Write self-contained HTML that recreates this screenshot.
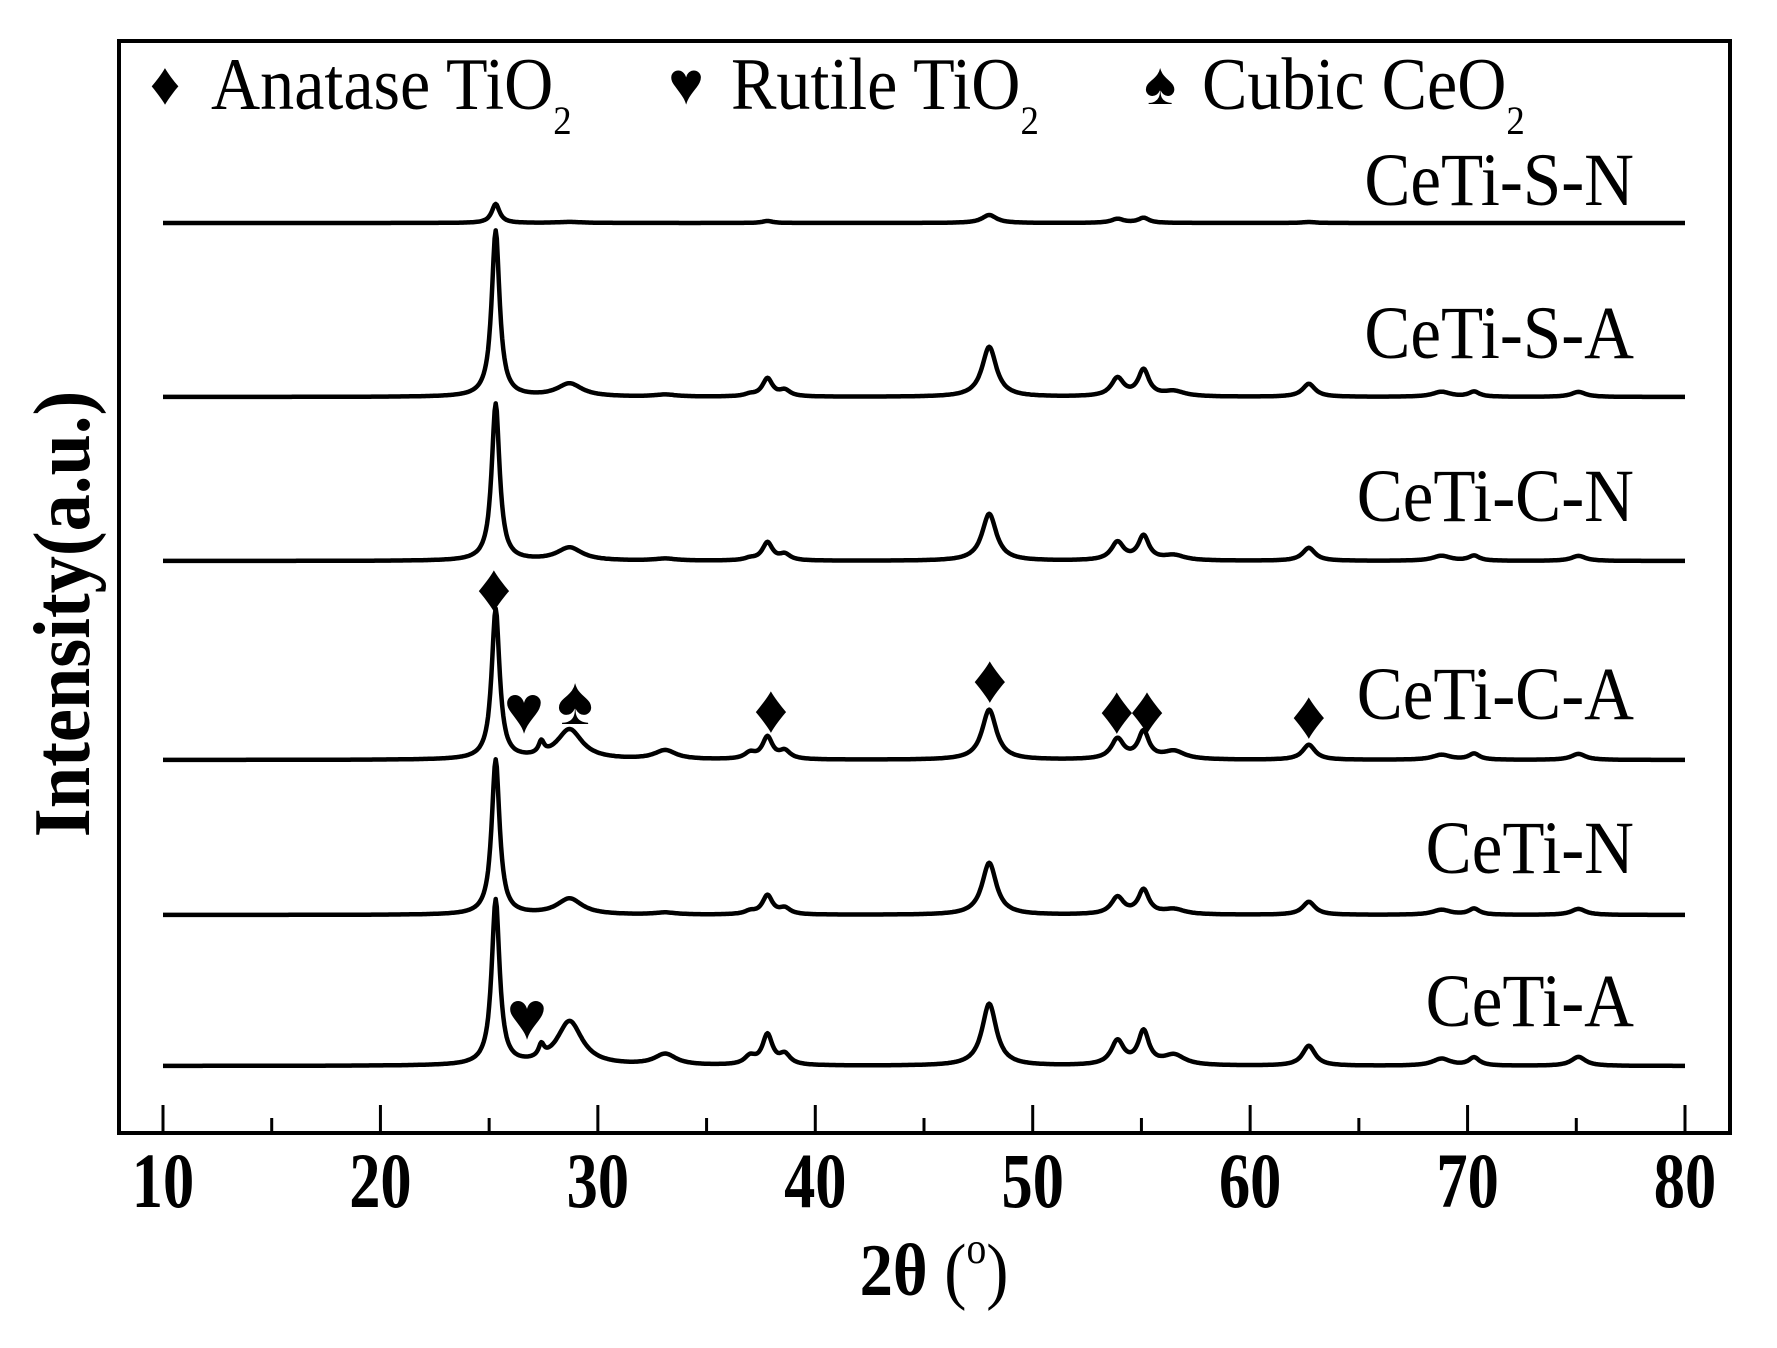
<!DOCTYPE html>
<html><head><meta charset="utf-8"><style>
html,body{margin:0;padding:0;background:#fff}
svg{display:block}
text{font-family:"Liberation Serif",serif;fill:#000}
</style></head><body>
<svg id="chart" width="1777" height="1348" viewBox="0 0 1777 1348" xmlns="http://www.w3.org/2000/svg">
<rect x="119" y="41" width="1611" height="1092" fill="none" stroke="#000" stroke-width="4"/>
<g id="ticks"></g>
<g id="series"></g>
<g id="markers"></g>
<text transform="translate(89,614) rotate(-90) scale(0.93,1)" text-anchor="middle" font-size="80" font-weight="bold">Intensity(a.u.)</text>
<text transform="translate(934,1295) scale(0.9,1)" text-anchor="middle" font-size="74"><tspan font-weight="bold">2θ</tspan> (<tspan font-size="44" dy="-32">o</tspan><tspan dy="32">)</tspan></text>
<g>
<text x="165" y="104" text-anchor="middle" font-size="60">♦</text>
<text transform="translate(211,109) scale(0.92,1)" font-size="74">Anatase TiO<tspan font-size="40" dy="25">2</tspan></text>
<text x="686" y="104" text-anchor="middle" font-size="60">♥</text>
<text transform="translate(731,109) scale(0.92,1)" font-size="74">Rutile TiO<tspan font-size="40" dy="25">2</tspan></text>
<text x="1160" y="104" text-anchor="middle" font-size="60">♠</text>
<text transform="translate(1202,109) scale(0.92,1)" font-size="74">Cubic CeO<tspan font-size="40" dy="25">2</tspan></text>
</g>
</svg>
<script>
const seriesNames = ["CeTi-S-N","CeTi-S-A","CeTi-C-N","CeTi-C-A","CeTi-N","CeTi-A"];
const seriesBaselines = [223,397,561,760,915,1066];
const labelBaselines = [205,358,521,719,873,1026];
// peak positions (2θ), widths (HWHM deg)
const peakPos = [25.3,27.4,28.7,33.1,37.0,37.8,38.6,48.0,53.9,55.1,56.5,62.7,68.8,70.3,75.1];
const peakWid = [0.22,0.15,0.7,0.6,0.3,0.28,0.3,0.4,0.35,0.3,0.6,0.35,0.5,0.3,0.4];
// intensities per series (a.u., roughly px)
const intSN = [19,0,1,0,0,2,0,8,4,5,0,1,0,0,0];
const intSA = [166,0,13,2,2,18,6,50,18,26,5,13,5,5,5];
const intCN = [157,0,13,2,2,18,6,47,18,24,5,13,5,5,5];
const intCA = [150,12,30,9,6,22,8,50,20,27,8,15,5,6,6];
const intN  = [155,0,16,2,3,19,6,52,17,24,5,13,5,6,6];
const intA  = [165,12,44,11,8,30,10,62,24,33,10,20,7,8,9];
const seriesInts = [intSN,intSA,intCN,intCA,intN,intA];
const xTicks = [10,20,30,40,50,60,70,80];
const minorTicks = [15,25,35,45,55,65,75];
// marker annotations: 2θ, height of glyph centre above baseline, glyph, series index
const markerX = [25.22,26.6,28.95,37.96,48.03,53.87,55.26,62.7,26.74];
const markerH = [171,49,58,50,80,49,49,44,49];
const markerG = ["♦","♥","♠","♦","♦","♦","♦","♦","♥"];
const markerS = [3,3,3,3,3,3,3,3,5];

const NS="http://www.w3.org/2000/svg";
const xS = v => 163 + (v-10)*(1685-163)/70;
function mk(tag, attrs, parent){const e=document.createElementNS(NS,tag);for(const k in attrs)e.setAttribute(k,attrs[k]);parent.appendChild(e);return e;}
const tg=document.getElementById('ticks');
xTicks.forEach(t=>{
  const l=mk('line',{x1:xS(t),x2:xS(t),y1:1133,y2:1105,stroke:'#000','stroke-width':3},tg);
  
  
  const tx=mk('text',{transform:'translate('+xS(t)+',1207) scale(0.8,1)','text-anchor':'middle','font-size':78,'font-weight':'bold'},tg);
  tx.textContent=t;
  
  
});
minorTicks.forEach(t=>{
  const l=mk('line',{x1:xS(t),x2:xS(t),y1:1133,y2:1118,stroke:'#000','stroke-width':3},tg);
  
  
});
const sg=document.getElementById('series');
seriesNames.forEach((nm,i)=>{
  const ints=seriesInts[i], b=seriesBaselines[i];
  let d='';
  for(let x=10;x<=80.0001;x+=0.05){
    let y=0;
    for(let k=0;k<peakPos.length;k++){const w=peakWid[k];const dx=x-peakPos[k];y+=ints[k]*w*w/(dx*dx+w*w);}
    d+=(d?'L':'M')+xS(x).toFixed(1)+','+(b-y).toFixed(1);
  }
  const p=mk('path',{d:d,fill:'none',stroke:'#000','stroke-width':4.5,'stroke-linejoin':'round'},sg);
  
  
  const t=mk('text',{transform:'translate(1634,'+labelBaselines[i]+') scale(0.92,1)','text-anchor':'end','font-size':75},sg);
  t.textContent=nm;
  
  
});
const mg=document.getElementById('markers');
markerX.forEach((x,i)=>{
  const t=mk('text',{x:xS(x),y:seriesBaselines[markerS[i]]-markerH[i]+22,'text-anchor':'middle','font-size':68},mg);
  t.textContent=markerG[i];
  
  
});
</script>
</body></html>
